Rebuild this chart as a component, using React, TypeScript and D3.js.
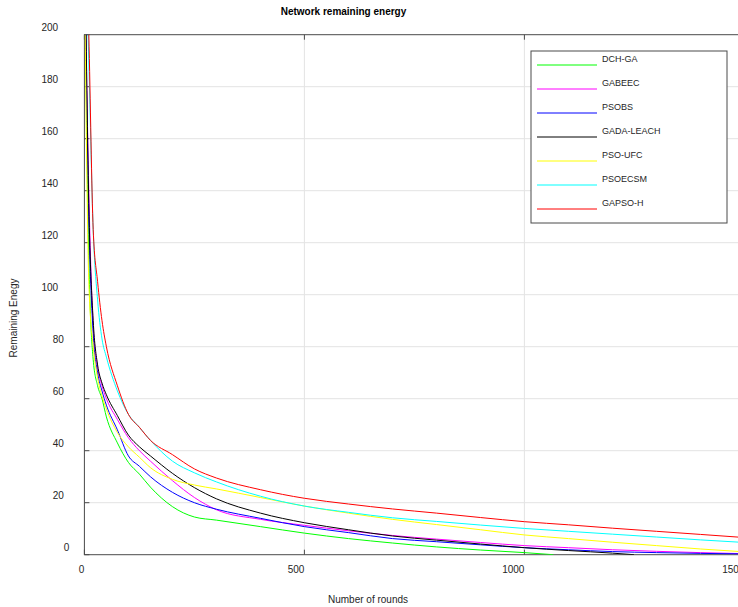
import React from "react";
import * as d3 from "d3";

// Rounds at which every protocol's remaining energy is sampled
const rounds = [0, 10, 20, 30, 40, 50, 75, 100, 125, 150, 200, 250, 300, 400, 500, 600, 700, 800, 900, 1000, 1100, 1200, 1300, 1400, 1500];

const dchGa = [240, 115, 75, 65, 60, 53, 43, 35.5, 31, 26, 18.5, 14.5, 13.3, 10.8, 8.3, 6.2, 4.5, 3, 1.8, 0.8, null, null, null, null, null];
const gabeec = [240, 140, 88, 72, 65, 60, 52, 45, 40, 36, 28.5, 22, 17.3, 13.6, 11.3, 9.2, 7.4, 6, 4.7, 3.5, 2.7, 1.9, 1.3, 0.8, 0.4];
const psobs = [240, 130, 85, 70, 63, 57.5, 48, 38, 34, 30, 24, 20, 17.5, 14, 10.8, 8.5, 6.2, 5, 3.8, 2.7, 1.9, 1.2, 0.8, 0.5, 0.3];
const gadaLeach = [250, 135, 90, 73, 66, 61.5, 53.5, 46, 41.5, 38, 31.3, 25.8, 21.5, 16, 12.3, 9.6, 7.2, 5.6, 4.1, 2.7, 1.6, 0.6, null, null, null];
const psoUfc = [230, 105, 80, 68, 61, 56, 47, 41.5, 37.5, 33.5, 29, 26.8, 25.3, 22, 18.7, 16, 13.6, 11.6, 9.6, 7.6, 6.2, 4.8, 3.5, 2.2, 1.1];
const psoecsm = [250, 190, 125, 98, 83, 76, 63, 54, 49, 44, 36, 31.5, 28, 22.5, 18.7, 16.3, 14.2, 12.8, 11.4, 10.1, 9, 7.9, 6.8, 5.7, 4.7];
const gapsoH = [260, 200, 125, 105, 90, 80, 65, 54, 49, 44, 38.5, 33, 29.5, 25, 21.7, 19.5, 17.6, 16, 14.3, 12.7, 11.5, 10.2, 9, 7.8, 6.6];

// Where the two depleted protocols reach zero energy
const dchGaDepletion = [1066, 0];
const gadaLeachDepletion = [1249, 0];

const seriesNames = ["DCH-GA", "GABEEC", "PSOBS", "GADA-LEACH", "PSO-UFC", "PSOECSM", "GAPSO-H"];
const seriesValues = [dchGa, gabeec, psobs, gadaLeach, psoUfc, psoecsm, gapsoH];
const seriesColors = ["#00ff00", "#ff00ff", "#0000ff", "#000000", "#ffff00", "#00ffff", "#ff0000"];
const depletionPoints: Record<string, number[]> = { "DCH-GA": dchGaDepletion, "GADA-LEACH": gadaLeachDepletion };

const xTicks = [0, 500, 1000, 1500];
const yTicks = [0, 20, 40, 60, 80, 100, 120, 140, 160, 180, 200];

const W = 738;
const H = 607;
const plot = { left: 84.4, right: 744.4, top: 34.7, bottom: 554.7 };
const font = "'Liberation Sans', Arial, Helvetica, sans-serif";
const textColor = "#262626";
const axisColor = "#4a4a4a";
const gridColor = "#e3e3e3";

export default function App() {
  const x = d3.scaleLinear().domain([0, 1500]).range([plot.left, plot.right]);
  const y = d3.scaleLinear().domain([0, 200]).range([plot.bottom, plot.top]);

  const line = d3
    .line<[number, number]>()
    .x((d) => x(d[0]))
    .y((d) => y(d[1]))
    .curve(d3.curveMonotoneX);

  const series = seriesNames.map((name, i) => {
    const pts: [number, number][] = [];
    rounds.forEach((r, j) => {
      const v = seriesValues[i][j];
      if (v !== null && v !== undefined) pts.push([r, v as number]);
    });
    const dep = depletionPoints[name];
    if (dep) pts.push([dep[0], dep[1]]);
    return { name, color: seriesColors[i], pts };
  });

  const legend = { x: 531, y: 51, w: 196, h: 172, row: 24 };
  const tickLen = 5;

  return (
    <svg
      width={W}
      height={H}
      style={{ position: "absolute", left: 0, top: 0, background: "#fff" }}
      fontFamily={font}
    >
      <defs>
        <clipPath id="plot-area">
          <rect x={plot.left} y={plot.top} width={plot.right - plot.left} height={plot.bottom - plot.top} />
        </clipPath>
      </defs>

      {/* grid */}
      <g stroke={gridColor} strokeWidth={1}>
        {yTicks.slice(1, -1).map((t) => (
          <line key={"gy" + t} x1={plot.left} x2={plot.right} y1={y(t)} y2={y(t)} />
        ))}
        {xTicks.slice(1, -1).map((t) => (
          <line key={"gx" + t} x1={x(t)} x2={x(t)} y1={plot.top} y2={plot.bottom} />
        ))}
      </g>

      {/* frame and inward ticks */}
      <g stroke={axisColor} strokeWidth={1} fill="none">
        <rect x={plot.left} y={plot.top} width={plot.right - plot.left} height={plot.bottom - plot.top} />
        {yTicks.map((t) => (
          <g key={"ty" + t}>
            <line x1={plot.left} x2={plot.left + tickLen} y1={y(t)} y2={y(t)} />
            <line x1={plot.right} x2={plot.right - tickLen} y1={y(t)} y2={y(t)} />
          </g>
        ))}
        {xTicks.map((t) => (
          <g key={"tx" + t}>
            <line x1={x(t)} x2={x(t)} y1={plot.bottom} y2={plot.bottom - tickLen} />
            <line x1={x(t)} x2={x(t)} y1={plot.top} y2={plot.top + tickLen} />
          </g>
        ))}
      </g>

      {/* series */}
      <g clipPath="url(#plot-area)" fill="none" strokeWidth={1}>
        {series.map((s) => (
          <path key={s.name} d={line(s.pts) || ""} stroke={s.color} />
        ))}
      </g>

      {/* tick labels */}
      <g fontSize={10} fill={textColor}>
        {yTicks.map((t) => {
          const label = String(t);
          return (
            <text key={"ly" + t} x={75 - 5.6 * label.length} y={y(t) - 6} textAnchor="end" dominantBaseline="middle">
              {label}
            </text>
          );
        })}
        {xTicks.map((t) => (
          <text key={"lx" + t} x={x(t)} y={570} textAnchor="end" dominantBaseline="middle">
            {String(t)}
          </text>
        ))}
      </g>

      {/* titles */}
      <text x={343.5} y={12.5} textAnchor="middle" dominantBaseline="middle" fontSize={10} fontWeight="bold" fill="#000">
        Network remaining energy
      </text>
      <text x={368} y={600} textAnchor="middle" dominantBaseline="middle" fontSize={10} fill={textColor}>
        Number of rounds
      </text>
      <text
        transform={`translate(14, 318) rotate(-90)`}
        textAnchor="middle"
        dominantBaseline="middle"
        fontSize={10}
        fill={textColor}
      >
        Remaining Enegy
      </text>

      {/* legend */}
      <g>
        <rect x={legend.x} y={legend.y} width={legend.w} height={legend.h} fill="#fff" stroke={axisColor} strokeWidth={1} />
        {series.map((s, i) => {
          const ly = legend.y + 14 + i * legend.row;
          return (
            <g key={"lg" + s.name}>
              <line x1={legend.x + 6} x2={legend.x + 66} y1={ly} y2={ly} stroke={s.color} strokeWidth={1} />
              <text x={legend.x + 71} y={ly - 5} dominantBaseline="middle" fontSize={9} fill={textColor}>
                {s.name}
              </text>
            </g>
          );
        })}
      </g>
    </svg>
  );
}
